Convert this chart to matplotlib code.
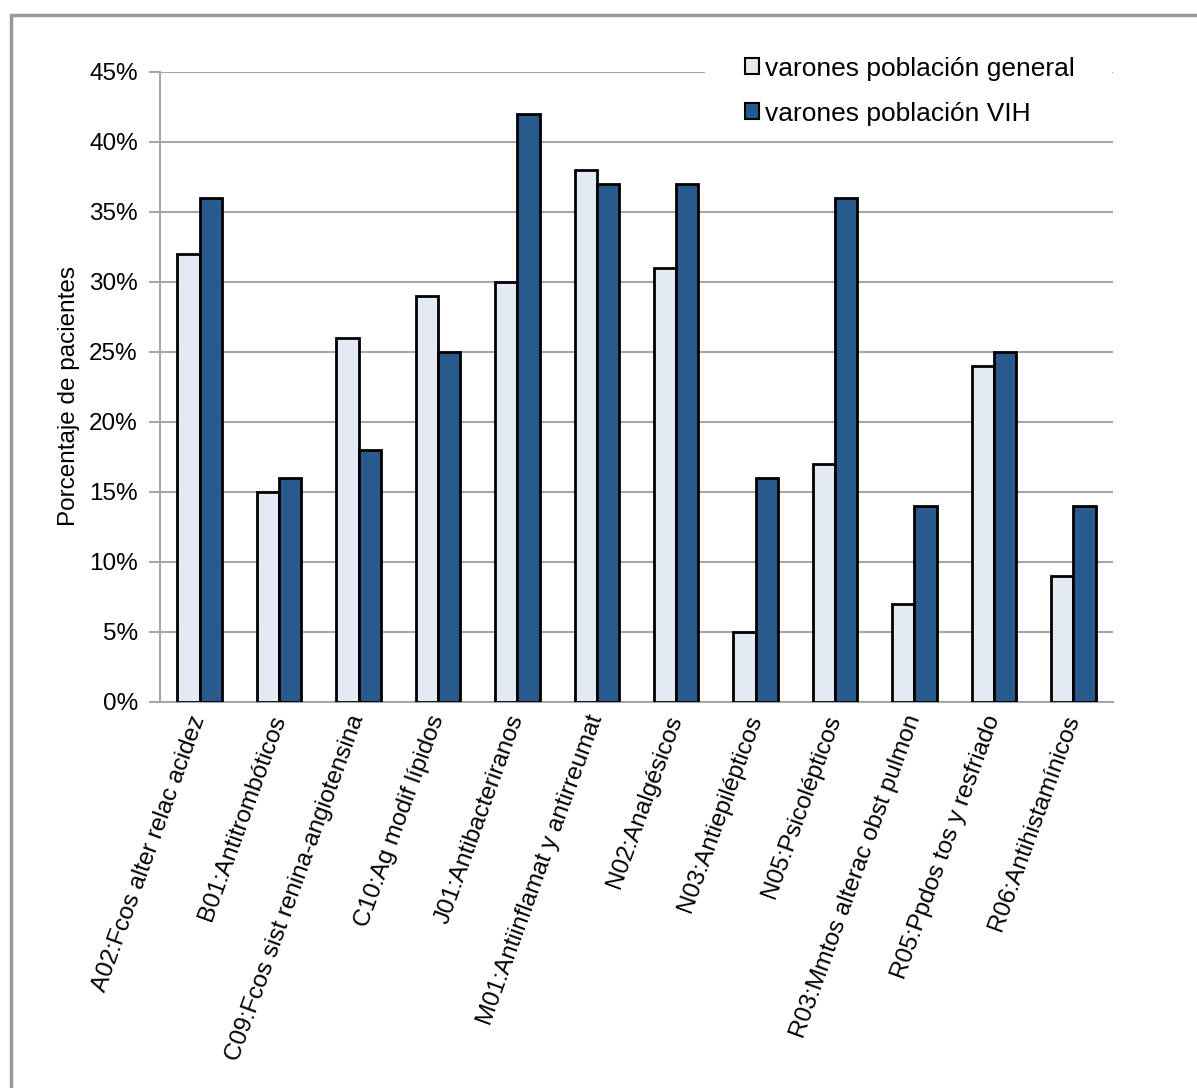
import matplotlib
matplotlib.use("Agg")
import matplotlib.pyplot as plt
from matplotlib.patches import Rectangle
from matplotlib.ticker import FuncFormatter, MultipleLocator

categories = [
    "A02:Fcos alter relac acidez",
    "B01:Antitrombóticos",
    "C09:Fcos sist renina-angiotensina",
    "C10:Ag modif lípidos",
    "J01:Antibacteriranos",
    "M01:Antiinflamat y antirreumat",
    "N02:Analgésicos",
    "N03:Antiepilépticos",
    "N05:Psicolépticos",
    "R03:Mmtos alterac obst pulmon",
    "R05:Ppdos tos y resfriado",
    "R06:Antihistamínicos",
]
general = [32, 15, 26, 29, 30, 38, 31, 5, 17, 7, 24, 9]
vih = [36, 16, 18, 25, 42, 37, 37, 16, 36, 14, 25, 14]
series_labels = ["varones población general", "varones población VIH"]

plt.rcParams["font.family"] = ["Liberation Sans", "DejaVu Sans"]

W, H = 1197, 1088
fig = plt.figure(figsize=(W / 100, H / 100), dpi=100)
ax = fig.add_axes([160 / W, 1 - 702 / H, (1113 - 160) / W, (702 - 72) / H])

x = list(range(len(categories)))
bw = 0.28
gen_vals = [v / 100 for v in general]
vih_vals = [v / 100 for v in vih]
ax.bar([i - bw / 2 for i in x], gen_vals, bw, color="#E3EAF4",
       edgecolor="black", linewidth=2, label=series_labels[0], zorder=3)
ax.bar([i + bw / 2 for i in x], vih_vals, bw, color="#285A8E",
       edgecolor="black", linewidth=2, label=series_labels[1], zorder=3)

ax.set_xlim(-0.5, len(categories) - 0.5)
ax.set_ylim(0, 0.45)
ax.yaxis.set_major_locator(MultipleLocator(0.05))
ax.yaxis.set_major_formatter(FuncFormatter(lambda v, p: f"{v * 100:.0f}%"))
ax.grid(axis="y", color="#a6a6a6", linewidth=1.5, zorder=0)
ax.set_axisbelow(True)

for s in ["top", "right"]:
    ax.spines[s].set_visible(False)
for s in ["left", "bottom"]:
    ax.spines[s].set_color("#a6a6a6")
    ax.spines[s].set_linewidth(1.5)

ax.tick_params(axis="y", length=8, width=1.5, color="#a6a6a6", labelsize=17.5, pad=8)
ax.tick_params(axis="x", length=0, labelsize=17.5, pad=10)
ax.set_xticks(x)
ax.set_xticklabels(categories, rotation=70, ha="right", va="center",
                   rotation_mode="anchor")
ax.set_ylabel("Porcentaje de pacientes", fontsize=17.5, va="center")
ax.yaxis.set_label_coords((69 - 160) / (1113 - 160), 0.485)

# legend area: white backing over the top gridline, then the entries
ax.add_patch(Rectangle((705 / W, 1 - 135 / H), (1112 - 705) / W, 90 / H,
                       transform=fig.transFigure, facecolor="white",
                       edgecolor="none", zorder=1))
leg = ax.legend(loc="upper right", bbox_to_anchor=(1085 / W, 1 - 46 / H),
                bbox_transform=fig.transFigure, fontsize=19, frameon=False,
                handlelength=0.55, handleheight=0.55, handletextpad=0.2,
                labelspacing=0.8, borderpad=0.4, borderaxespad=0)
for h in leg.legend_handles:
    h.set_linewidth(1.5)

# outer chart-area frame
fig.patches.append(Rectangle((11 / W, -0.01), 1.02, 1 - 15 / H + 0.01,
                             transform=fig.transFigure, fill=False,
                             edgecolor="#999999", linewidth=2.5))

fig.savefig("out.png", dpi=100)
